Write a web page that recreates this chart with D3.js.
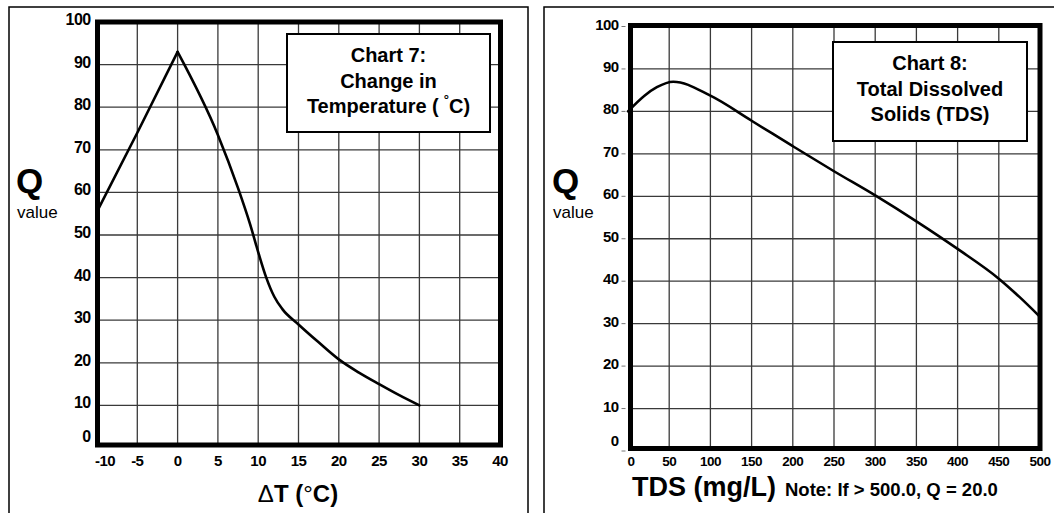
<!DOCTYPE html>
<html>
<head>
<meta charset="utf-8">
<script src="https://cdn.jsdelivr.net/npm/d3@7"></script>
<style>
  html, body { margin: 0; padding: 0; background: #fff; }
  svg { display: block; }
  text { font-family: "Liberation Sans", Arial, Helvetica, sans-serif; fill: #000; }
</style>
</head>
<body>
<svg id="chart" width="1054" height="513"></svg>
<script>
// ---------- Data ----------
// Chart 7: Change in Temperature (ΔT, °C) vs Q value
const tempDelta = [-10, -5, 0, 5, 7.5, 9, 10, 11, 12, 13, 15, 17.5, 20, 22.5, 25, 27.5, 30];
const tempQ     = [55.5, 74, 93, 73.5, 61, 52.5, 46, 40, 35.5, 32.6, 29.0, 24.8, 20.8, 17.7, 15, 12.4, 10];
const tempXTicks = [-10, -5, 0, 5, 10, 15, 20, 25, 30, 35, 40];
const tempYTicks = [0, 10, 20, 30, 40, 50, 60, 70, 80, 90, 100];
const tempTitle = ["Chart 7:", "Change in", "Temperature ("];

// Chart 8: Total Dissolved Solids (mg/L) vs Q value
const tdsValues = [0, 20, 35, 55, 100, 150, 200, 250, 300, 350, 400, 450, 475, 500];
const tdsQ      = [80, 83.7, 85.7, 87, 83.7, 77.8, 71.8, 65.9, 60.2, 54.1, 47.6, 40.6, 36.3, 31.6];
const tdsXTicks = [0, 50, 100, 150, 200, 250, 300, 350, 400, 450, 500];
const tdsYTicks = [0, 10, 20, 30, 40, 50, 60, 70, 80, 90, 100];
const tdsTitle = ["Chart 8:", "Total Dissolved", "Solids (TDS)"];

const svg = d3.select("#chart");

// outer panel frames
svg.append("rect").attr("x", 9).attr("y", 7).attr("width", 519).attr("height", 530)
  .attr("fill", "none").attr("stroke", "#000").attr("stroke-width", 1.5);
svg.append("rect").attr("x", 544).attr("y", 7).attr("width", 530).attr("height", 530)
  .attr("fill", "none").attr("stroke", "#000").attr("stroke-width", 1.5);

function panel(opt) {
  const x = d3.scaleLinear().domain(opt.xDomain).range(opt.xRange);
  const y = d3.scaleLinear().domain([0, 100]).range(opt.yRange);
  const g = svg.append("g");

  // grid
  const xt = opt.xTicks, yt = opt.yTicks;
  g.selectAll(".vg").data(xt.slice(1, -1)).join("line")
    .attr("x1", d => x(d)).attr("x2", d => x(d))
    .attr("y1", opt.frame.top).attr("y2", opt.frame.bottom)
    .attr("stroke", "#3a3a3a").attr("stroke-width", 1.3);
  g.selectAll(".hg").data(yt.slice(1, -1)).join("line")
    .attr("y1", d => y(d)).attr("y2", d => y(d))
    .attr("x1", opt.frame.left).attr("x2", opt.frame.right)
    .attr("stroke", "#3a3a3a").attr("stroke-width", 1.3);

  // curve: rising part drawn straight (sharp peak), falling part smooth
  const pts = opt.xs.map((v, i) => [v, opt.ys[i]]);
  const peak = opt.sharpPeak ? d3.maxIndex(opt.ys) : 0;
  const pieces = opt.sharpPeak
    ? [[pts.slice(0, peak + 1), d3.curveLinear], [pts.slice(peak), d3.curveMonotoneX]]
    : [[pts, d3.curveMonotoneX]];
  pieces.forEach(([data, curve]) => {
    const line = d3.line().x(d => x(d[0])).y(d => y(d[1])).curve(curve);
    g.append("path").datum(data)
      .attr("d", line).attr("fill", "none").attr("stroke", "#000")
      .attr("stroke-width", 2.6).attr("stroke-linejoin", "round").attr("stroke-linecap", "round");
  });

  // thick frame
  g.append("rect").attr("x", opt.frame.left).attr("y", opt.frame.top)
    .attr("width", opt.frame.right - opt.frame.left)
    .attr("height", opt.frame.bottom - opt.frame.top)
    .attr("fill", "none").attr("stroke", "#000").attr("stroke-width", 5);

  // y tick labels
  g.selectAll(".yl").data(yt).join("text")
    .attr("x", opt.frame.left - opt.yLabelGap)
    .attr("y", d => Math.min(y(d) + 3, opt.frame.bottom - 3))
    .attr("text-anchor", "end").attr("font-weight", "bold")
    .attr("font-size", opt.yFont).attr("letter-spacing", -0.6)
    .text(d => d);
  if (opt.yTickMarks) {
    g.selectAll(".ym").data(yt).join("line")
      .attr("x1", opt.frame.left - 9).attr("x2", opt.frame.left - 5)
      .attr("y1", d => y(d)).attr("y2", d => y(d))
      .attr("stroke", "#777").attr("stroke-width", 1);
  }

  // x tick labels
  g.selectAll(".xl").data(xt).join("text")
    .attr("x", (d, i) => x(d) + (i === 0 ? opt.firstXShift : 0))
    .attr("y", 466)
    .attr("text-anchor", "middle").attr("font-weight", "bold")
    .attr("font-size", opt.xFont).attr("letter-spacing", -0.5)
    .attr("fill", (d, i) => i === xt.length - 1 ? opt.lastXColor : "#000")
    .text(d => d);

  // Q value label
  g.append("text").attr("x", opt.qx).attr("y", 193)
    .attr("font-weight", "bold").attr("font-size", 35).text("Q");
  g.append("text").attr("x", opt.qx + 1).attr("y", 218)
    .attr("font-size", 17).text("value");

  // title box
  const b = opt.box;
  g.append("rect").attr("x", b.x).attr("y", b.y).attr("width", b.w).attr("height", b.h)
    .attr("fill", "#fff").attr("stroke", "#000").attr("stroke-width", 2);
  const cx = b.x + b.w / 2;
  opt.title.forEach((t, i) => {
    const tx = g.append("text").attr("x", cx).attr("y", b.y + 28 + i * 25.5)
      .attr("text-anchor", "middle").attr("font-weight", "bold").attr("font-size", 20);
    tx.append("tspan").text(t);
    if (opt.degreeTitle && i === opt.title.length - 1) {
      tx.append("tspan").attr("dx", 5).attr("font-size", 13).attr("dy", -9).text("°");
      tx.append("tspan").attr("dy", 9).text("C)");
    }
  });
  return { x, y, g };
}

// Chart 7
panel({
  xDomain: [-10, 40], xRange: [97, 500], yRange: [448, 22],
  frame: { left: 97.5, right: 500.5, top: 22, bottom: 445 },
  xTicks: tempXTicks, yTicks: tempYTicks,
  xs: tempDelta, ys: tempQ, sharpPeak: true,
  yLabelGap: 7, yFont: 16, xFont: 15, firstXShift: 8, lastXColor: "#555",
  yTickMarks: false, qx: 16,
  box: { x: 287, y: 34, w: 203, h: 98 }, title: tempTitle, degreeTitle: true
});

// Chart 8
panel({
  xDomain: [0, 500], xRange: [628, 1040], yRange: [451, 26.5],
  frame: { left: 630.5, right: 1040, top: 25.5, bottom: 448.5 },
  xTicks: tdsXTicks, yTicks: tdsYTicks,
  xs: tdsValues, ys: tdsQ, sharpPeak: false,
  yLabelGap: 12, yFont: 15, xFont: 13.5, firstXShift: 3, lastXColor: "#9a9a9a",
  yTickMarks: true, qx: 552,
  box: { x: 833, y: 42, w: 194, h: 99 }, title: tdsTitle, degreeTitle: false
});

// axis titles
const xt7 = svg.append("text").attr("x", 298).attr("y", 502)
  .attr("text-anchor", "middle").attr("font-size", 24).attr("font-weight", "bold");
xt7.append("tspan").attr("font-weight", "normal").text("Δ");
xt7.append("tspan").text("T (");
xt7.append("tspan").attr("font-weight", "normal").text("°");
xt7.append("tspan").text("C)");

svg.append("text").attr("x", 632).attr("y", 496)
  .attr("font-size", 27).attr("font-weight", "bold").text("TDS (mg/L)");
svg.append("text").attr("x", 785).attr("y", 496)
  .attr("font-size", 18.5).attr("font-weight", "bold").text("Note: If > 500.0, Q = 20.0");
</script>
</body>
</html>
